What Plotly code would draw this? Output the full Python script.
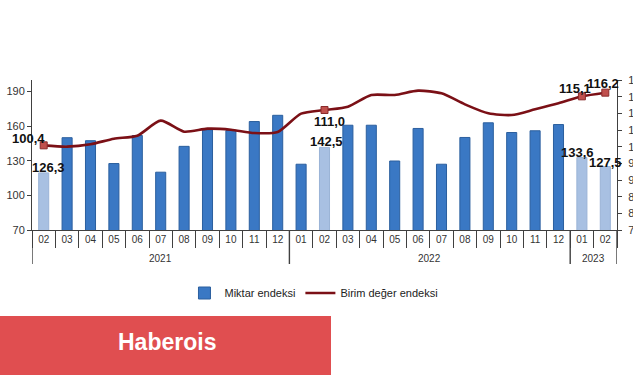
import plotly.graph_objects as go

years = ["2021"] * 11 + ["2022"] * 12 + ["2023"] * 2
months = ["02", "03", "04", "05", "06", "07", "08", "09", "10", "11", "12",
          "01", "02", "03", "04", "05", "06", "07", "08", "09", "10", "11", "12",
          "01", "02"]
year_labels = ["2021", "2022", "2023"]

# Miktar endeksi (bar heights as drawn)
miktar = [119.5, 150.0, 147.4, 127.6, 151.9, 120.1, 142.5, 156.8, 156.2, 164.0, 169.4,
          127.0, 141.6, 160.8, 160.8, 129.8, 158.0, 127.0, 150.2, 162.9, 154.5, 156.0, 161.4,
          132.8, 125.0]
miktar_labels = ["126,3", "", "", "", "", "", "", "", "", "", "",
                 "", "142,5", "", "", "", "", "", "", "", "", "", "",
                 "133,6", "127,5"]
highlight = [True] + [False] * 11 + [True] + [False] * 10 + [True, True]

# Birim değer endeksi
birim = [100.4, 100.0, 100.7, 102.4, 103.3, 107.8, 104.5, 105.4, 105.1, 104.1, 104.4,
         109.9, 111.0, 112.0, 115.5, 115.5, 116.8, 116.0, 112.7, 110.0, 109.5, 111.2, 113.0,
         115.1, 116.2]
birim_labels = ["100,4", "", "", "", "", "", "", "", "", "", "",
                "", "111,0", "", "", "", "", "", "", "", "", "", "",
                "115,1", "116,2"]

# label offsets in pixels (dx, dy up) of the label centre from the labelled point
miktar_label_shift = {0: (5, 5), 12: (2, 6), 23: (-4, 5), 24: (0, 4)}
birim_label_shift = {0: (-15, 7), 12: (5, -11), 23: (-7, 8), 24: (-2, 9)}

keys = [y + "-" + m for y, m in zip(years, months)]

dark_vals = [v if not h else None for v, h in zip(miktar, highlight)]
light_vals = [v if h else None for v, h in zip(miktar, highlight)]

FONT = "Liberation Sans"
AX = "#404040"

fig = go.Figure()
fig.add_trace(go.Bar(
    x=keys, y=dark_vals, name="Miktar endeksi",
    marker=dict(color="#3a78c4", line=dict(color="#2b5f9e", width=1)),
    width=0.43,
))
fig.add_trace(go.Bar(
    x=keys, y=light_vals, name="Miktar endeksi", showlegend=False,
    marker=dict(color="#a8c0e2", line=dict(color="#9ab3d6", width=1)),
    width=0.43,
))
fig.add_trace(go.Scatter(
    x=keys, y=birim, yaxis="y2", name="Birim değer endeksi", mode="lines",
    line=dict(color="#7b1016", width=2.6, shape="spline", smoothing=0.7),
))
sel = [i for i, t in enumerate(birim_labels) if t]
fig.add_trace(go.Scatter(
    x=[keys[i] for i in sel], y=[birim[i] for i in sel], yaxis="y2",
    mode="markers", showlegend=False, cliponaxis=False,
    marker=dict(symbol="square", size=7, color="#c0504d", line=dict(color="#8a2b2b", width=1)),
))

shapes = []
annotations = []

# value labels
for i, t in enumerate(miktar_labels):
    if t:
        dx, dy = miktar_label_shift[i]
        annotations.append(dict(text="<b>" + t + "</b>", xref="x", yref="y", x=keys[i], y=miktar[i],
                                xshift=dx, yshift=dy, showarrow=False,
                                xanchor="center", yanchor="middle",
                                font=dict(family=FONT, size=13, color="#111111")))
for i, t in enumerate(birim_labels):
    if t:
        dx, dy = birim_label_shift[i]
        annotations.append(dict(text="<b>" + t + "</b>", xref="x", yref="y2", x=keys[i], y=birim[i],
                                xshift=dx, yshift=dy, showarrow=False,
                                xanchor="center", yanchor="middle",
                                font=dict(family=FONT, size=13, color="#111111")))

# year groups: dividers and labels
n = len(keys)
bounds = [0]
for i in range(1, n):
    if years[i] != years[i - 1]:
        bounds.append(i)
bounds.append(n)
for b in bounds:
    shapes.append(dict(type="line", xref="x", yref="paper", x0=b - 0.5, x1=b - 0.5,
                       y0=0, y1=-34 / 150, line=dict(color=AX, width=1.4)))
for j, yl in enumerate(year_labels):
    mid = (bounds[j] + bounds[j + 1] - 1) / 2
    annotations.append(dict(text=yl, xref="x", yref="paper", x=mid, y=-28 / 150,
                            showarrow=False, xanchor="center", yanchor="middle",
                            font=dict(family=FONT, size=10, color="#333333")))

# banner
shapes.append(dict(type="rect", xref="paper", yref="paper",
                   x0=-32 / 585, x1=(331 - 32) / 585, y0=(230 - 316) / 150, y1=(230 - 380) / 150,
                   fillcolor="#e04e50", line=dict(width=0), layer="above"))
annotations.append(dict(text="<b>Haberois</b>", xref="paper", yref="paper",
                        x=(167 - 32) / 585, y=(230 - 342) / 150, showarrow=False,
                        xanchor="center", yanchor="middle",
                        font=dict(family=FONT, size=23, color="white")))

fig.update_layout(
    width=633, height=375,
    margin=dict(l=32, r=16, t=80, b=145),
    paper_bgcolor="white", plot_bgcolor="white",
    barmode="overlay",
    font=dict(family=FONT, size=10, color="#333333"),
    showlegend=True,
    legend=dict(orientation="h", x=0.482, xanchor="center", y=-0.42, yanchor="middle",
                font=dict(size=11, color="#222222"), traceorder="normal"),
    xaxis=dict(type="category", tickvals=keys, ticktext=months, tickangle=0,
               range=[-0.5, n - 0.5], autorange=False,
               showline=True, linecolor=AX, linewidth=1, automargin=False,
               ticks="outside", tickson="boundaries", ticklen=17, tickcolor=AX, tickwidth=1.3,
               tickfont=dict(size=10, color="#333333"), showgrid=False),
    yaxis=dict(range=[70, 200], tickvals=[70, 100, 130, 160, 190], showline=True,
               linecolor=AX, ticks="outside", ticklen=4, tickcolor=AX, automargin=False,
               showgrid=False, zeroline=False, tickfont=dict(size=11, color="#333333")),
    yaxis2=dict(range=[75, 120], dtick=5, tick0=75, overlaying="y", side="right", showline=True,
                linecolor=AX, ticks="outside", ticklen=4, tickcolor=AX, automargin=False,
                ticklabelstandoff=4,
                showgrid=False, zeroline=False, tickfont=dict(size=11, color="#333333")),
    shapes=shapes,
    annotations=annotations,
)

fig.write_html("out.html", config={"displayModeBar": False},
               post_script="document.body.style.margin='0px';document.body.style.overflow='hidden';")
